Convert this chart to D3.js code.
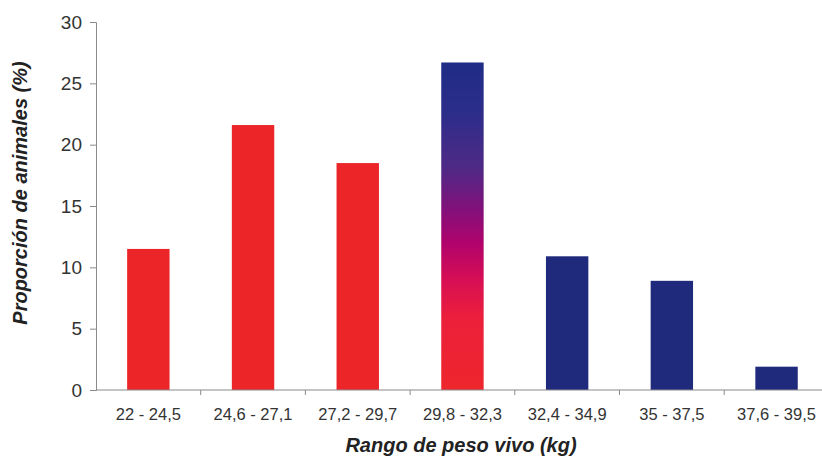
<!DOCTYPE html>
<html>
<head>
<meta charset="utf-8">
<script src="https://cdn.jsdelivr.net/npm/d3@7"></script>
<style>
  html, body { margin: 0; padding: 0; background: #fff; }
  svg { display: block; font-family: "Liberation Sans", Arial, sans-serif; }
</style>
</head>
<body>
<svg id="chart" width="822" height="456"></svg>
<script>
// Weight ranges (kg) and share of animals in each range (%)
const categories = ["22 - 24,5", "24,6 - 27,1", "27,2 - 29,7", "29,8 - 32,3", "32,4 - 34,9", "35 - 37,5", "37,6 - 39,5"];
const values = [11.5, 21.6, 18.5, 26.7, 10.9, 8.9, 1.9];
// Fill per bar: "red", "navy", or "blend" (navy-to-red gradient)
const fills = ["red", "red", "red", "blend", "navy", "navy", "navy"];
const yTicks = [0, 5, 10, 15, 20, 25, 30];

const svg = d3.select("#chart");
const margin = { left: 96, top: 22, bottom: 66 };
const height = 456;
const bandW = 104.7;

const x = d3.scaleBand()
  .domain(categories)
  .range([margin.left, margin.left + bandW * categories.length])
  .paddingInner(0.595)
  .paddingOuter(0.2975);

const y = d3.scaleLinear()
  .domain([0, 30])
  .range([height - margin.bottom, margin.top]);

const colors = { red: "#ec2529", navy: "#1f2a7c" };

// Vertical gradient for the blended bar
const defs = svg.append("defs");
const grad = defs.append("linearGradient")
  .attr("id", "blend")
  .attr("x1", 0).attr("y1", 0).attr("x2", 0).attr("y2", 1);
[
  [0, "#1f2c86"],
  [0.15, "#2c2d8a"],
  [0.32, "#4e2a86"],
  [0.45, "#83107a"],
  [0.55, "#b0036c"],
  [0.66, "#d60e55"],
  [0.78, "#ec1f3b"],
  [1, "#ee262c"]
].forEach(([o, c]) => grad.append("stop").attr("offset", o).attr("stop-color", c));

// Bars
svg.append("g")
  .selectAll("rect")
  .data(categories)
  .join("rect")
  .attr("x", d => x(d))
  .attr("y", (d, i) => y(values[i]))
  .attr("width", x.bandwidth())
  .attr("height", (d, i) => y(0) - y(values[i]))
  .attr("fill", (d, i) => fills[i] === "blend" ? "url(#blend)" : colors[fills[i]]);

// Y axis
const yAxis = svg.append("g")
  .attr("transform", `translate(${margin.left},0)`)
  .call(d3.axisLeft(y).tickValues(yTicks).tickSize(6).tickPadding(8));
yAxis.select(".domain").attr("stroke", "#8a8a8a").attr("stroke-width", 1);
yAxis.selectAll(".tick line").attr("stroke", "#8a8a8a");
yAxis.selectAll(".tick text")
  .attr("font-size", 19)
  .attr("fill", "#333")
  .attr("font-family", "Liberation Sans, Arial, sans-serif");

// X axis: category separators between bands
const xAxisG = svg.append("g").attr("transform", `translate(0,${y(0)})`);
xAxisG.append("line")
  .attr("x1", margin.left).attr("x2", 822)
  .attr("stroke", "#8a8a8a");
xAxisG.selectAll("line.sep")
  .data(categories)
  .join("line")
  .attr("class", "sep")
  .attr("x1", d => x(d) - x.step() * x.paddingInner() / 2 + x.step())
  .attr("x2", d => x(d) - x.step() * x.paddingInner() / 2 + x.step())
  .attr("y1", 0).attr("y2", 5)
  .attr("stroke", "#8a8a8a");
xAxisG.selectAll("text")
  .data(categories)
  .join("text")
  .attr("x", d => x(d) + x.bandwidth() / 2)
  .attr("y", 30)
  .attr("text-anchor", "middle")
  .attr("font-size", 16.5)
  .attr("fill", "#333")
  .text(d => d);

// Axis titles
svg.append("text")
  .attr("x", 461).attr("y", 452)
  .attr("text-anchor", "middle")
  .attr("font-size", 20)
  .attr("font-weight", "bold")
  .attr("font-style", "italic")
  .attr("fill", "#222")
  .text("Rango de peso vivo (kg)");

svg.append("text")
  .attr("transform", "translate(27,193) rotate(-90)")
  .attr("text-anchor", "middle")
  .attr("font-size", 20)
  .attr("font-weight", "bold")
  .attr("font-style", "italic")
  .attr("fill", "#222")
  .text("Proporción de animales (%)");
</script>
</body>
</html>
